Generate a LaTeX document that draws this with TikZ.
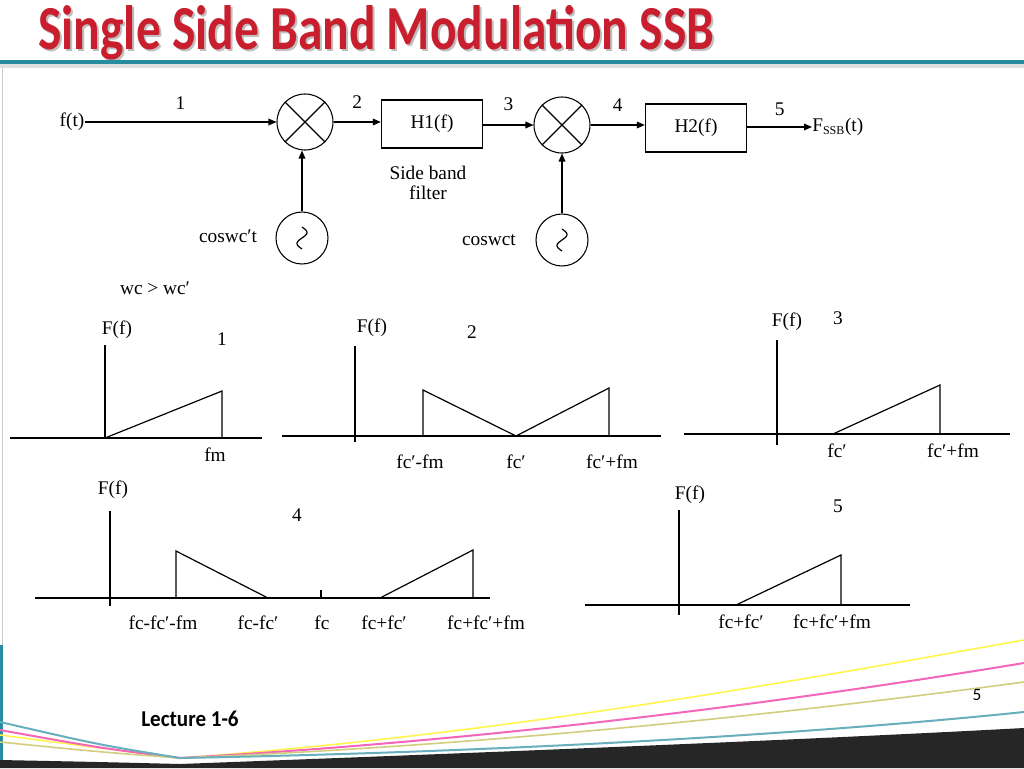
\documentclass[tikz,border=0pt]{standalone}
\usepackage{fontspec}
\setmainfont{Liberation Serif}
\newfontfamily\titlefont{Carlito}
\usetikzlibrary{arrows.meta}
\definecolor{titlered}{RGB}{200,30,45}
\definecolor{teal}{RGB}{40,140,160}
\begin{document}
\begin{tikzpicture}[x=0.75pt,y=-0.75pt,
  lbl/.style={font=\fontsize{14.5}{16}\selectfont,inner sep=0pt},
  sig/.style={draw,line width=0.9pt,-{Triangle[length=6pt,width=5pt]}},
  ln/.style={line width=0.9pt},
  mix/.style={draw,circle,minimum size=42pt,inner sep=0pt,line width=0.8pt},
  osc/.style={draw,circle,minimum size=39pt,inner sep=0pt,line width=0.8pt},
  blk/.style={draw,line width=0.8pt,minimum width=76pt,minimum height=36pt,font=\fontsize{14.5}{16}\selectfont}]
\useasboundingbox (0,0) rectangle (1024,768);
\fill[white] (0,0) rectangle (1024,768);
% title and header
\node[font=\titlefont\bfseries\fontsize{47}{50}\selectfont,text=gray!50,anchor=west,inner sep=0pt,xscale=0.79] (tsh) at (40,35) {Single Side Band Modulation SSB};
\node[font=\titlefont\bfseries\fontsize{47}{50}\selectfont,text=titlered,anchor=west,inner sep=0pt,xscale=0.79] (title) at (38,33) {Single Side Band Modulation SSB};
\fill[gray!25] (0,64) rectangle (1024,68);
\fill[teal] (0,60) rectangle (1024,64);
\draw[gray!40] (2,68) -- (2,645);
\fill[teal] (0,645) rectangle (3,768);
% block diagram
\node[lbl] (ft) at (72,122) {f(t)};
\node[mix] (m1) at (305,122) {};
\draw[ln] (m1.north west) -- (m1.south east) (m1.north east) -- (m1.south west);
\node[blk] (h1) at (432,124) {H1(f)};
\node[mix] (m2) at (562,125) {};
\draw[ln] (m2.north west) -- (m2.south east) (m2.north east) -- (m2.south west);
\node[blk] (h2) at (696,128) {H2(f)};
\node[lbl,anchor=west] (out) at (812,127) {F\textsubscript{\fontsize{9}{9}\selectfont SSB}(t)};
\node[osc] (o1) at (302,238) {};
\node[osc] (o2) at (562,240) {};
\foreach \o in {o1,o2}{
  \begin{scope}[shift={(\o.center)}]
  \draw[ln] plot[domain=-11:11,smooth,samples=25] ({-5*sin(\x*16.4)},\x);
  \end{scope}}
\draw[sig] (ft) -- node[lbl,above=9pt] (n1) {1} (m1);
\draw[sig] (m1) -- node[lbl,above=10pt] (n2) {2} (h1.west|-m1);
\draw[sig] (h1.east|-m2) -- node[lbl,above=10pt] (n3) {3} (m2);
\draw[sig] (m2) -- node[lbl,above=10pt] (n4) {4} (h2.west|-m2);
\draw[sig] (h2.east|-out) -- node[lbl,above=8pt] (n5) {5} (out);
\draw[sig] (o1) -- (o1|-m1.south);
\draw[sig] (o2) -- (m2);
\node[lbl,align=center] (sbf) at (428,183) {Side band\\[-1pt]filter};
\node[lbl] (c1) at (228,236) {coswc′t};
\node[lbl] (c2) at (489,240) {coswct};
\node[lbl] (wc) at (155,288) {wc > wc′};
% plot 1
\draw[ln] (10,438) -- (262,438) (105,345) -- (105,438);
\draw[ln] (105,438) -- (222,391) -- (222,438);
\node[lbl] (p1f) at (117,330) {F(f)};
\node[lbl] (p1n) at (222,339) {1};
\node[lbl] (p1a) at (215,455) {fm};
% plot 2
\draw[ln] (282,436) -- (661,436) (355,346) -- (355,442);
\draw[ln] (423,436) -- (423,390) -- (516,436) -- (609,388) -- (609,436);
\node[lbl] (p2f) at (372,328) {F(f)};
\node[lbl] (p2n) at (472,332) {2};
\node[lbl] (p2a) at (420,462) {fc′-fm};
\node[lbl] (p2b) at (516,462) {fc′};
\node[lbl] (p2c) at (612,462) {fc′+fm};
% plot 3
\draw[ln] (684,434) -- (1010,434) (777,340) -- (777,445);
\draw[ln] (833,434) -- (940,385) -- (940,434);
\node[lbl] (p3f) at (787,322) {F(f)};
\node[lbl] (p3n) at (838,318) {3};
\node[lbl] (p3a) at (837,451) {fc′};
\node[lbl] (p3b) at (953,451) {fc′+fm};
% plot 4
\draw[ln] (35,598) -- (490,598) (110,511) -- (110,606);
\draw[ln] (176,598) -- (176,551) -- (268,598);
\draw[ln] (380,598) -- (473,550) -- (473,598);
\draw[ln] (321,590) -- (321,598);
\node[lbl] (p4f) at (113,490) {F(f)};
\node[lbl] (p4n) at (297,515) {4};
\node[lbl] (p4a) at (163,623) {fc-fc′-fm};
\node[lbl] (p4b) at (258,623) {fc-fc′};
\node[lbl] (p4c) at (322,623) {fc};
\node[lbl] (p4d) at (384,623) {fc+fc′};
\node[lbl] (p4e) at (486,623) {fc+fc′+fm};
% plot 5
\draw[ln] (585,605) -- (910,605) (679,510) -- (679,615);
\draw[ln] (736,605) -- (841,555) -- (841,605);
\node[lbl] (p5f) at (690,495) {F(f)};
\node[lbl] (p5n) at (838,506) {5};
\node[lbl] (p5a) at (741,622) {fc+fc′};
\node[lbl] (p5b) at (832,622) {fc+fc′+fm};
% footer swooshes
\fill[black!85] (0,768) -- (0,760) .. controls (100,762) .. (180,764) .. controls (500,752) and (800,740) .. (1024,728) -- (1024,768) -- cycle;
\draw[yellow!70!white,line width=1.2pt] (0,735) .. controls (100,748) .. (180,758) .. controls (500,735) and (800,680) .. (1024,640);
\draw[magenta!60!white,line width=1.5pt] (0,730) .. controls (100,748) .. (180,758) .. controls (500,740) and (800,700) .. (1024,663);
\draw[olive!40!white,line width=1.2pt] (0,742) .. controls (100,752) .. (180,758) .. controls (500,745) and (800,712) .. (1024,682);
\draw[teal!70!white,line width=1.5pt] (0,722) .. controls (100,745) .. (180,758) .. controls (500,752) and (800,735) .. (1024,712);
\node[font=\titlefont\bfseries\fontsize{17}{19}\selectfont,inner sep=0pt,xscale=0.93] (lec) at (190,719) {Lecture 1-6};
\node[font=\titlefont\fontsize{13}{15}\selectfont,inner sep=0pt] (pg) at (977,695) {5};
\end{tikzpicture}
\end{document}
